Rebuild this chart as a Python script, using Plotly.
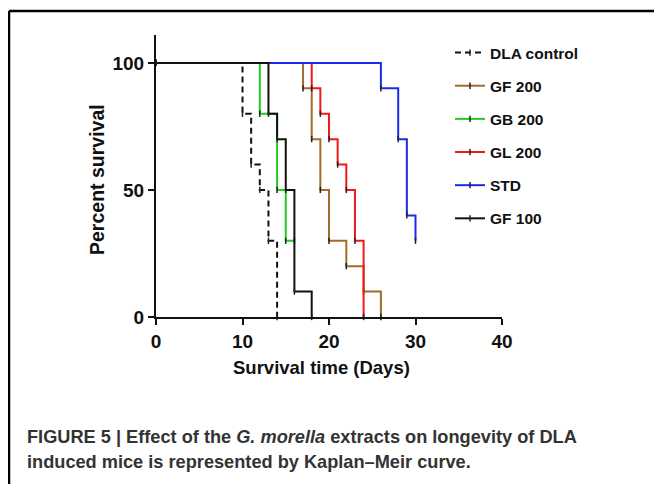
import plotly.graph_objects as go

# ---- data ----
series_names = ["DLA control", "GF 200", "GB 200", "GL 200", "STD", "GF 100"]

dla_days = [0, 10, 11, 12, 13, 14]
dla_surv = [100, 80, 60, 50, 30, 0]

gf200_days = [0, 17, 18, 19, 20, 22, 24, 26]
gf200_surv = [100, 90, 70, 50, 30, 20, 10, 0]

gb200_days = [0, 12, 14, 15, 16]
gb200_surv = [100, 80, 50, 30, 30]

gl200_days = [0, 18, 19, 20, 21, 22, 23, 24]
gl200_surv = [100, 90, 80, 70, 60, 50, 30, 0]

std_days = [0, 26, 28, 29, 30]
std_surv = [100, 90, 70, 40, 30]

gf100_days = [0, 13, 14, 15, 16, 18]
gf100_surv = [100, 80, 70, 50, 10, 0]

x_ticks = [0, 10, 20, 30, 40]
y_ticks = [0, 50, 100]

# ---- styles ----
colors = ["#111111", "#A06E2C", "#1FCC1F", "#EE1A1A", "#1A2BEE", "#111111"]
dashes = ["6px,4px", "solid", "solid", "solid", "solid", "solid"]
data = [(dla_days, dla_surv), (gf200_days, gf200_surv), (gb200_days, gb200_surv),
        (gl200_days, gl200_surv), (std_days, std_surv), (gf100_days, gf100_surv)]

# page has an 8px body margin; work in window coordinates and shift
OFF = 8
W, H = 662 - OFF, 484 - OFF
L, R, T, B = 156 - OFF, 160, 35 - OFF, 167
pw, ph = W - L - R, H - T - B


def px(xw):
    return (xw - OFF - L) / pw


def py(yw):
    return 1 - (yw - OFF - T) / ph


fig = go.Figure()
for i, (name, (xs, ys)) in enumerate(zip(series_names, data)):
    fig.add_trace(go.Scatter(
        x=xs, y=ys, name=name, mode="lines+markers",
        line=dict(color=colors[i], width=2, shape="hv", dash=dashes[i]),
        marker=dict(symbol="line-ns", size=4.5, color="#222222",
                    line=dict(color="#222222", width=1.5)),
        legendgroup=name, cliponaxis=False,
    ))

font_main = "Liberation Sans, Arial, sans-serif"
font_tick = "Liberation Sans Narrow, Liberation Sans, Arial, sans-serif"

fig.update_layout(
    width=W, height=H,
    margin=dict(l=L, r=R, t=T, b=B),
    paper_bgcolor="white", plot_bgcolor="white",
    showlegend=True,
    legend=dict(
        x=px(450), y=py(36), xanchor="left", yanchor="top",
        traceorder="grouped", tracegroupgap=10,
        font=dict(family=font_main, size=15.5, color="#111111", weight="bold"),
        bgcolor="rgba(0,0,0,0)", itemwidth=30,
    ),
    xaxis=dict(
        range=[0, 40], tickvals=x_ticks, ticks="outside", ticklen=6, tickwidth=2,
        tickcolor="#111", showline=True, linecolor="#111", linewidth=2,
        showgrid=False, zeroline=False,
        tickfont=dict(family=font_tick, size=19, color="#111", weight="bold"),
    ),
    yaxis=dict(
        range=[0, 111], tickvals=y_ticks, ticks="outside", ticklen=6, tickwidth=2,
        tickcolor="#111", showline=True, linecolor="#111", linewidth=2,
        showgrid=False, zeroline=False,
        tickfont=dict(family=font_tick, size=19, color="#111", weight="bold"),
    ),
    annotations=[
        dict(text="<b>Survival time (Days)</b>", xref="paper", yref="paper",
             x=px(321), y=py(367), xanchor="center", yanchor="middle",
             showarrow=False, font=dict(family=font_main, size=18.5, color="#111")),
        dict(text="<b>Percent survival</b>", xref="paper", yref="paper",
             x=px(97), y=py(180), xanchor="center", yanchor="middle",
             textangle=-90, showarrow=False,
             font=dict(family=font_main, size=19.5, color="#111")),
        dict(text="<b>FIGURE 5 | Effect of the <i>G. morella</i> extracts on longevity of DLA</b>",
             xref="paper", yref="paper", x=px(25), y=py(437),
             xanchor="left", yanchor="middle", showarrow=False,
             font=dict(family=font_main, size=18.2, color="#333")),
        dict(text="<b>induced mice is represented by Kaplan\u2013Meir curve.</b>",
             xref="paper", yref="paper", x=px(25), y=py(462),
             xanchor="left", yanchor="middle", showarrow=False,
             font=dict(family=font_main, size=18.2, color="#333")),
    ],
    shapes=[
        dict(type="line", xref="paper", yref="paper",
             x0=px(9), x1=px(680), y0=py(11), y1=py(11),
             line=dict(color="#000", width=2.5)),
        dict(type="line", xref="paper", yref="paper",
             x0=px(9), x1=px(9), y0=py(11), y1=py(500),
             line=dict(color="#000", width=2.5)),
    ],
)

fig.write_html("out.html")
